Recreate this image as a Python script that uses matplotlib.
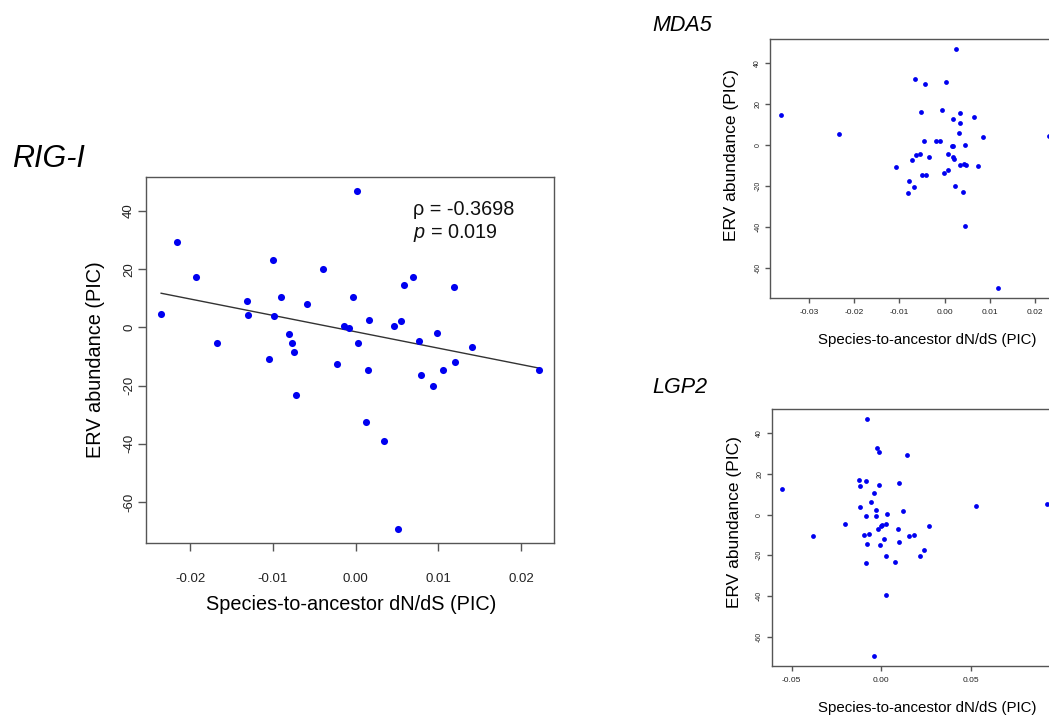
import numpy as np
import matplotlib
matplotlib.use("Agg")
import matplotlib.pyplot as plt

plt.rcParams["font.family"] = ["Liberation Sans", "DejaVu Sans"]
plt.rcParams["mathtext.fontset"] = "custom"
plt.rcParams["mathtext.rm"] = "Liberation Sans"
plt.rcParams["mathtext.it"] = "Liberation Sans:italic"

# RIG-I: species-to-ancestor dN/dS (PIC) vs ERV abundance (PIC)
rig_x = [-0.0235, -0.02155, -0.01926, -0.01669, -0.01315, -0.01295, -0.00998, -0.00897,
         -0.00989, -0.00587, -0.00391, -0.00808, -0.00768, -0.00740, -0.01050, -0.00229,
         -0.0072, 0.00012, 0.00688, 0.00591, 0.01186, -0.00029, 0.00160, 0.00470,
         0.00547, -0.00141, -0.00077, 0.00024, 0.00767, 0.00981, 0.01407, 0.01198,
         0.00145, 0.01061, 0.00788, 0.00941, 0.00121, 0.00338, 0.00507, 0.02215]
rig_y = [4.7, 29.4, 17.3, -5.5, 9.1, 4.3, 23.3, 10.3,
         3.9, 8.1, 20.1, -2.2, -5.5, -8.4, -10.9, -12.6,
         -23.1, 47.0, 17.3, 14.5, 13.9, 10.5, 2.6, 0.6,
         2.2, 0.4, -0.3, -5.4, -4.6, -2.0, -6.8, -12.0,
         -14.6, -14.6, -16.3, -20.0, -32.5, -39.1, -69.4, -14.6]
# fitted line
fit_slope = -563.0
fit_intercept = -1.5

# MDA5
mda_x = [-0.0363, -0.0234, 0.00261, -0.00654, -0.00431, 0.00031, -0.00513, -0.00058,
         0.0035, 0.00663, 0.00194, 0.0035, 0.00313, 0.00857, 0.02321, -0.0046,
         -0.00193, -0.00096, 0.00157, 0.00187, 0.00455, -0.00632, -0.00542, -0.00349,
         -0.00728, 0.00083, 0.00179, 0.00201, -0.01071, 0.0035, 0.00432, 0.00484,
         0.00737, -0.00498, -0.00416, 0.00083, -0.00022, -0.00788, -0.00684, 0.00223,
         -0.0081, 0.00417, 0.00462, 0.01176]
mda_y = [14.6, 5.4, 47.1, 32.5, 29.6, 30.9, 16.4, 17.2,
         15.6, 14.0, 12.7, 10.7, 6.2, 3.9, 4.4, 2.1,
         2.1, 2.0, -0.3, -0.6, 0.3, -4.7, -4.5, -5.5,
         -7.1, -4.2, -5.5, -6.6, -10.4, -9.7, -9.2, -9.7,
         -10.2, -14.3, -14.6, -12.0, -13.6, -17.3, -20.1, -20.0,
         -23.4, -23.0, -39.2, -69.6]

# LGP2
lgp_x = [-0.00779, -0.00239, -0.00128, 0.0143, -0.0551, -0.01224, -0.00868, -0.01169,
         -0.00145, 0.00968, -0.00406, -0.00556, 0.05287, 0.0924, -0.01202, -0.00278,
         0.01208, -0.00868, -0.00312, 0.00317, -0.02003, -0.03784, 0.0004, 0.0,
         0.00245, -0.00167, 0.00946, 0.02671, -0.00946, -0.00701, 0.00167, 0.01558,
         0.01803, -0.00779, -0.00072, 0.00968, 0.00262, 0.0217, 0.02393, -0.00851,
         0.00779, 0.00278, -0.00406]
lgp_y = [47.1, 32.5, 30.9, 29.4, 12.5, 17.2, 16.3, 13.9,
         14.7, 15.5, 10.8, 6.0, 4.4, 5.4, 3.7, 2.1,
         2.0, -0.5, -0.7, 0.1, -4.6, -10.5, -5.1, -5.6,
         -4.4, -7.2, -6.9, -5.6, -9.8, -9.3, -12.1, -10.6,
         -9.8, -14.4, -14.7, -13.6, -20.1, -20.3, -17.5, -23.5,
         -23.2, -39.4, -69.6]

yticks = [-60, -40, -20, 0, 20, 40]
rig_xticks = [-0.02, -0.01, 0.00, 0.01, 0.02]
mda_xticks = [-0.03, -0.02, -0.01, 0.00, 0.01, 0.02]
lgp_xticks = [-0.05, 0.00, 0.05]

xlabel = "Species-to-ancestor dN/dS (PIC)"
ylabel = "ERV abundance (PIC)"
spine_col = "#555555"


def r_limits(v):
    # R style 4% padding
    lo, hi = min(v), max(v)
    pad = 0.04 * (hi - lo)
    return lo - pad, hi + pad


def style_axes(ax, x, y, xticks, xfs, yfs, tick_len, xpad, ypad, lw=1.0):
    ax.set_xlim(*r_limits(x))
    ax.set_ylim(*r_limits(y))
    ax.set_xticks(xticks)
    ax.set_xticklabels(["%.2f" % t for t in xticks])
    ax.set_yticks(yticks)
    ax.set_yticklabels([str(t) for t in yticks], rotation=90, va="center")
    ax.tick_params(axis="both", direction="out", length=tick_len, width=lw,
                   color=spine_col, labelcolor="#222222")
    ax.tick_params(axis="x", pad=xpad, labelsize=xfs)
    ax.tick_params(axis="y", pad=ypad, labelsize=yfs)
    for s in ax.spines.values():
        s.set_color(spine_col)
        s.set_linewidth(lw)


def put_labels(ax, xfs, yfs, xpos, ypos):
    ax.set_xlabel(xlabel, fontsize=xfs, va="center")
    ax.set_ylabel(ylabel, fontsize=yfs, va="center")
    ax.xaxis.set_label_coords(*xpos)
    ax.yaxis.set_label_coords(*ypos)


fig = plt.figure(figsize=(10.49, 7.18), dpi=100)

# main RIG-I panel
ax = fig.add_axes([0.1392, 0.2437, 0.3889, 0.5098])
ax.scatter(rig_x, rig_y, s=26, color="#0000f0", zorder=3, linewidths=0)
fx = np.array([min(rig_x), max(rig_x)])
ax.plot(fx, fit_slope * fx + fit_intercept, color="#333333", lw=1.0, zorder=2)
style_axes(ax, rig_x, rig_y, rig_xticks, 9.5, 9.5, 5.8, 15.5, 2)
put_labels(ax, 14.3, 14.3, (0.504, -0.167), (-0.125, 0.5))
ax.text(0.654, 0.896, "ρ = -0.3698", transform=ax.transAxes, fontsize=14.3,
        va="baseline", color="#111111")
ax.text(0.654, 0.833, "$p$ = 0.019", transform=ax.transAxes, fontsize=14.3,
        va="baseline", color="#111111")
fig.text(12 / 1049, 1 - 167 / 718, "RIG-I", fontsize=22, style="italic",
         va="baseline", ha="left")

# MDA5 panel (runs off the right edge)
ax2 = fig.add_axes([0.7340, 0.5854, 0.2765, 0.3603])
ax2.scatter(mda_x, mda_y, s=12, color="#0000f0", zorder=3, linewidths=0)
style_axes(ax2, mda_x, mda_y, mda_xticks, 6, 5, 3.6, 4.5, 2.6)
put_labels(ax2, 10.8, 12.5, (0.541, -0.1635), (-0.131, 0.55))
fig.text(652 / 1049, 1 - 31 / 718, "MDA5", fontsize=15.5, style="italic",
         va="baseline", ha="left")

# LGP2 panel
ax3 = fig.add_axes([0.7357, 0.0724, 0.2729, 0.3579])
ax3.scatter(lgp_x, lgp_y, s=12, color="#0000f0", zorder=3, linewidths=0)
style_axes(ax3, lgp_x, lgp_y, lgp_xticks, 6, 5, 3.6, 4.5, 2.6)
put_labels(ax3, 10.8, 12.5, (0.542, -0.163), (-0.131, 0.56))
fig.text(652 / 1049, 1 - 393 / 718, "LGP2", fontsize=15.5, style="italic",
         va="baseline", ha="left")

fig.savefig("out.png", dpi=100)
